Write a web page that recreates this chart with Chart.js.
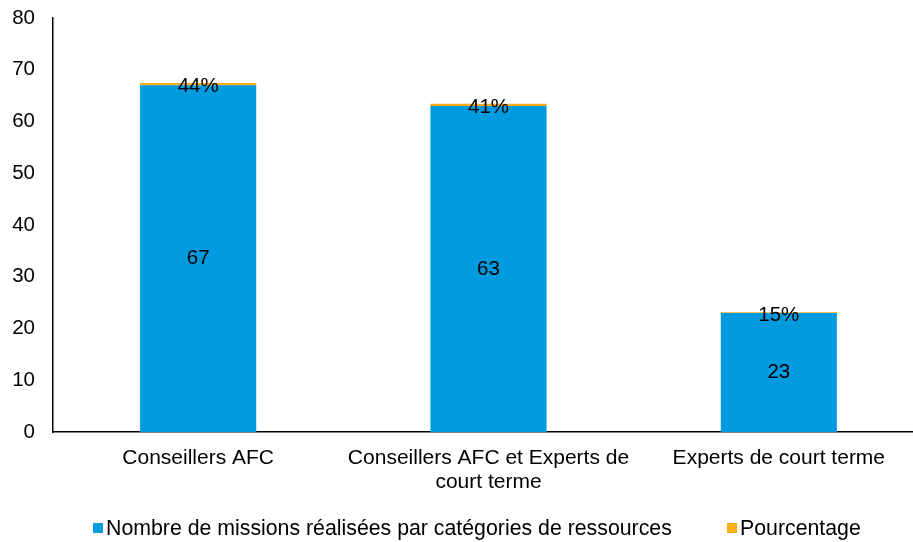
<!DOCTYPE html>
<html lang="fr">
<head>
  <meta charset="UTF-8">
  <title>Missions par catégories de ressources</title>
  <script src="https://cdn.jsdelivr.net/npm/chart.js"></script>
  <style>
    html, body {
      margin: 0;
      padding: 0;
      background: #ffffff;
      overflow: hidden;
      font-family: "Liberation Sans", Arial, sans-serif;
    }
    #wrap {
      position: relative;
      width: 913px;
      height: 542px;
      overflow: hidden;
    }
    #legend {
      position: absolute;
      left: 0;
      top: 515px;
      width: 913px;
      font-size: 21.3px;
      color: #000;
      white-space: nowrap;
    }
    #legend .item {
      position: absolute;
      top: 0;
      line-height: 26px;
    }
    #legend .box {
      display: inline-block;
      width: 10px;
      height: 10px;
      margin-right: 3px;
      vertical-align: 2px;
    }
  </style>
</head>
<body>
  <div id="wrap">
    <canvas id="missionsChart" width="924" height="542"></canvas>
    <div id="legend"></div>
  </div>

  <script>
    const categories = [
      'Conseillers AFC',
      ['Conseillers AFC et Experts de', 'court terme'],
      'Experts de court terme'
    ];
    const missions = [67, 63, 23];
    const percentages = [0.44, 0.41, 0.15];
    const percentLabels = ['44%', '41%', '15%'];
    const seriesNames = ['Nombre de missions réalisées par catégories de ressources', 'Pourcentage'];
    const seriesColors = ['#009ADE', '#F5AD1A'];

    const FONT = '"Liberation Sans", Arial, sans-serif';

    // draw the value labels on the bars
    const valueLabels = {
      id: 'valueLabels',
      afterDatasetsDraw(chart) {
        const ctx = chart.ctx;
        ctx.save();
        ctx.font = '20.5px ' + FONT;
        ctx.fillStyle = '#000';
        ctx.textAlign = 'center';
        ctx.textBaseline = 'middle';
        chart.getDatasetMeta(0).data.forEach((bar, i) => {
          const mid = (bar.y + bar.base) / 2;
          ctx.fillText(String(missions[i]), bar.x, mid);
        });
        chart.getDatasetMeta(1).data.forEach((bar, i) => {
          ctx.fillText(percentLabels[i], bar.x, bar.y + 3);
        });
        ctx.restore();
      }
    };

    new Chart(document.getElementById('missionsChart'), {
      type: 'bar',
      data: {
        labels: categories,
        datasets: [
          {
            label: seriesNames[0],
            data: missions,
            backgroundColor: seriesColors[0],
            categoryPercentage: 1,
            barPercentage: 0.4
          },
          {
            label: seriesNames[1],
            data: percentages,
            backgroundColor: seriesColors[1],
            categoryPercentage: 1,
            barPercentage: 0.4
          }
        ]
      },
      options: {
        responsive: false,
        animation: false,
        layout: { padding: { top: 18, right: 0, bottom: 40, left: 0 } },
        plugins: {
          legend: { display: false },
          tooltip: { enabled: false }
        },
        scales: {
          x: {
            stacked: true,
            grid: { display: false, drawTicks: false },
            border: { display: true, color: '#000', width: 1.5 },
            ticks: {
              color: '#000',
              padding: 14,
              maxRotation: 0,
              autoSkip: false,
              font: { family: FONT, size: 21, lineHeight: '24px' }
            },
            afterFit(scale) { scale.height = 70; }
          },
          y: {
            stacked: true,
            min: 0,
            max: 80,
            grid: { display: false, drawTicks: false },
            border: { display: true, color: '#000', width: 1.5 },
            ticks: {
              stepSize: 10,
              color: '#000',
              padding: 18,
              font: { family: FONT, size: 20.5 }
            },
            afterFit(scale) {
              scale.width = 53;
              scale.paddingTop = 0;
              scale.paddingBottom = 0;
            }
          }
        }
      },
      plugins: [valueLabels]
    });

    // legend placed like the original (wide gap between the two entries)
    const legendX = [93, 727];
    const legend = document.getElementById('legend');
    seriesNames.forEach((name, i) => {
      const item = document.createElement('span');
      item.className = 'item';
      item.style.left = legendX[i] + 'px';
      item.innerHTML = '<span class="box" style="background:' + seriesColors[i] + '"></span>' + name;
      legend.appendChild(item);
    });
  </script>
</body>
</html>
